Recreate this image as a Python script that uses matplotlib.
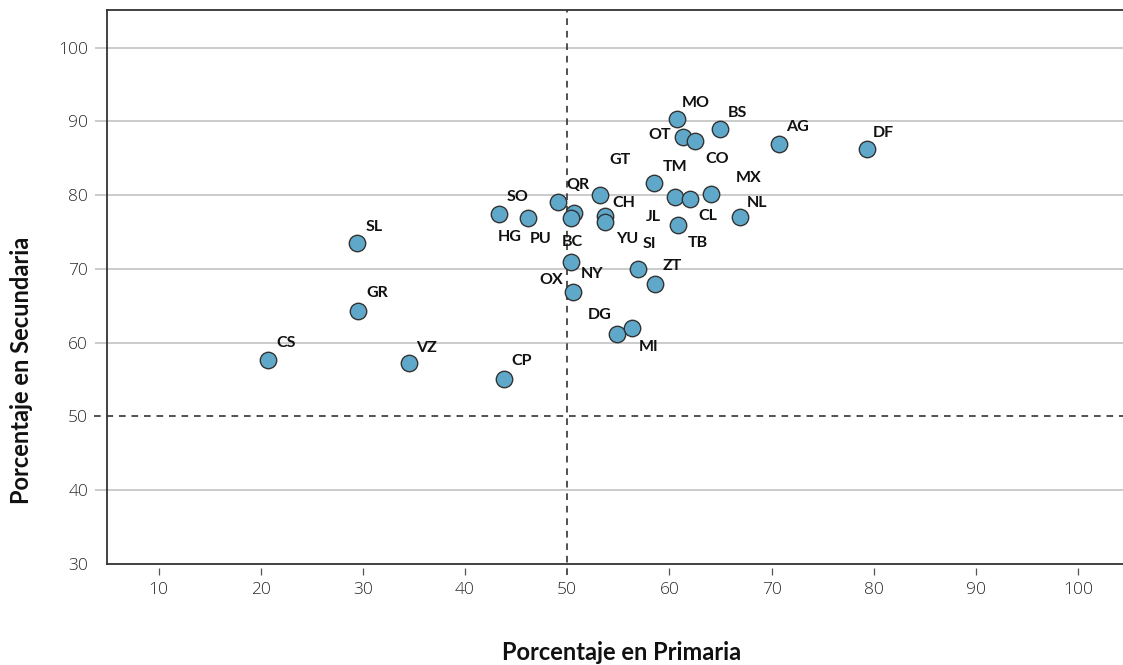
import matplotlib.pyplot as plt
import matplotlib.transforms as mtransforms

# datos
estados = ['CS', 'SL', 'GR', 'VZ', 'CP', 'HG', 'PU', 'SO', 'QR', 'BC',
           'GT', 'CH', 'YU', 'OX', 'NY', 'SI', 'ZT', 'DG', 'MI', 'TM',
           'JL', 'CL', 'MX', 'NL', 'TB', 'MO', 'OT', 'CO', 'BS', 'AG', 'DF']
primaria = [20.7, 29.4, 29.5, 34.5, 43.8, 43.3, 46.2, 49.1, 50.7, 50.4,
            53.2, 53.7, 53.7, 50.4, 50.6, 56.9, 58.6, 54.9, 56.3, 58.5,
            60.6, 62.0, 64.1, 66.9, 60.8, 60.7, 61.3, 62.5, 65.0, 70.7, 79.3]
secundaria = [57.7, 73.5, 64.3, 57.2, 55.1, 77.4, 76.9, 79.0, 77.6, 76.9,
              80.0, 77.1, 76.3, 70.9, 66.8, 70.0, 68.0, 61.2, 62.0, 81.6,
              79.7, 79.5, 80.1, 77.0, 76.0, 90.3, 87.9, 87.3, 89.0, 86.9, 86.2]

xticks = [10, 20, 30, 40, 50, 60, 70, 80, 90, 100]
yticks = [30, 40, 50, 60, 70, 80, 90, 100]

# posicion de cada etiqueta respecto a su punto (pixeles, y hacia abajo)
etiqueta_dx = [18, 17, 20, 18, 17.5, 11, 12.4, -40, 3.3, 0.7,
               20, 19, 22, -20.3, 18.7, 12, 17.2, -17.7, 17.3, 20.7,
               -21.7, 18.3, 37.6, 17.4, 20.7, 19.3, -23.4, 22, 16.7, 18.7, 17]
etiqueta_dy = [-17, -16, -18, -15, -17.5, 23, 21.3, -5.4, -27.7, 24.4,
               -35, -13.4, 16.7, 18, -18.2, -24.7, -17.3, -19, 19, -16,
               19.4, 17.7, -16.7, -14, 18, -15.7, -1.7, 17.3, -15.7, -17, -16]

gris = '#bdbdbd'
oscuro = '#333333'
px = 0.72  # puntos por pixel a 100 dpi

fig = plt.figure(figsize=(11.23, 6.65), dpi=100)
ax = fig.add_axes([0.0953, 0.1519, 0.9047, 0.8338])

ax.set_xlim(4.96, 104.4)
ax.set_ylim(30, 105.15)

# Rejilla horizontal
for y in yticks:
    if y in (30, 50):
        continue
    ax.axhline(y, color=gris, lw=1.1, zorder=1)

# Lineas de referencia en 50
trans_y = mtransforms.blended_transform_factory(ax.transAxes, ax.transData)
ax.plot([-0.0125, 1], [50, 50], transform=trans_y, color=oscuro, lw=1.2,
        ls=(0, (4, 3.5)), clip_on=False, zorder=2)
trans_x = mtransforms.blended_transform_factory(ax.transData, ax.transAxes)
ax.plot([50, 50], [-0.02, 1], transform=trans_x, color=oscuro, lw=1.2,
        ls=(0, (4, 3.5)), clip_on=False, zorder=2)

ax.scatter(primaria, secundaria, s=140, color='#5fa8c9', edgecolors=oscuro,
           linewidths=1.0, zorder=3)

for i, e in enumerate(estados):
    ax.annotate(e, (primaria[i], secundaria[i]),
                xytext=(etiqueta_dx[i] * px, -etiqueta_dy[i] * px),
                textcoords='offset points', ha='center', va='center',
                fontsize=11.5, fontweight='bold', family='Lato', color='#111111',
                zorder=4)

# Marco
ax.spines['right'].set_visible(False)
ax.spines['left'].set_color(oscuro)
ax.spines['top'].set_color(oscuro)
ax.spines['left'].set_linewidth(1.3)
ax.spines['top'].set_linewidth(1.3)
ax.spines['bottom'].set_position(('outward', 3))
ax.spines['bottom'].set_visible(False)
ax.plot([0, 1], [0, 0], transform=ax.transAxes, color=oscuro, lw=1.3,
        clip_on=False, zorder=5)

ax.set_xticks(xticks)
ax.set_yticks(yticks)
ax.tick_params(axis='x', length=5, width=0.9, color='#555555', pad=5,
               labelsize=12.5, labelcolor='#2a2a2a')
ax.tick_params(axis='y', length=8.6, width=1.1, color=gris, pad=5,
               labelsize=12.5, labelcolor='#2a2a2a')
for t, v in zip(ax.yaxis.get_major_ticks(), yticks):
    if v in (30, 50):
        t.tick1line.set_visible(False)
for t, v in zip(ax.xaxis.get_major_ticks(), xticks):
    if v == 50:
        t.tick1line.set_visible(False)
for lab in ax.get_xticklabels() + ax.get_yticklabels():
    lab.set_family('Open Sans')
    lab.set_fontweight('light')

fig.text(622 / 1123, 1 - 652 / 665, 'Porcentaje en Primaria', ha='center',
         va='center', fontsize=17, fontweight='bold', family='Lato', color='#111111')
fig.text(22 / 1123, 1 - 370 / 665, 'Porcentaje en Secundaria', ha='center',
         va='center', rotation=90, fontsize=17, fontweight='bold', family='Lato',
         color='#111111')

fig.savefig('out.png', dpi=100)
